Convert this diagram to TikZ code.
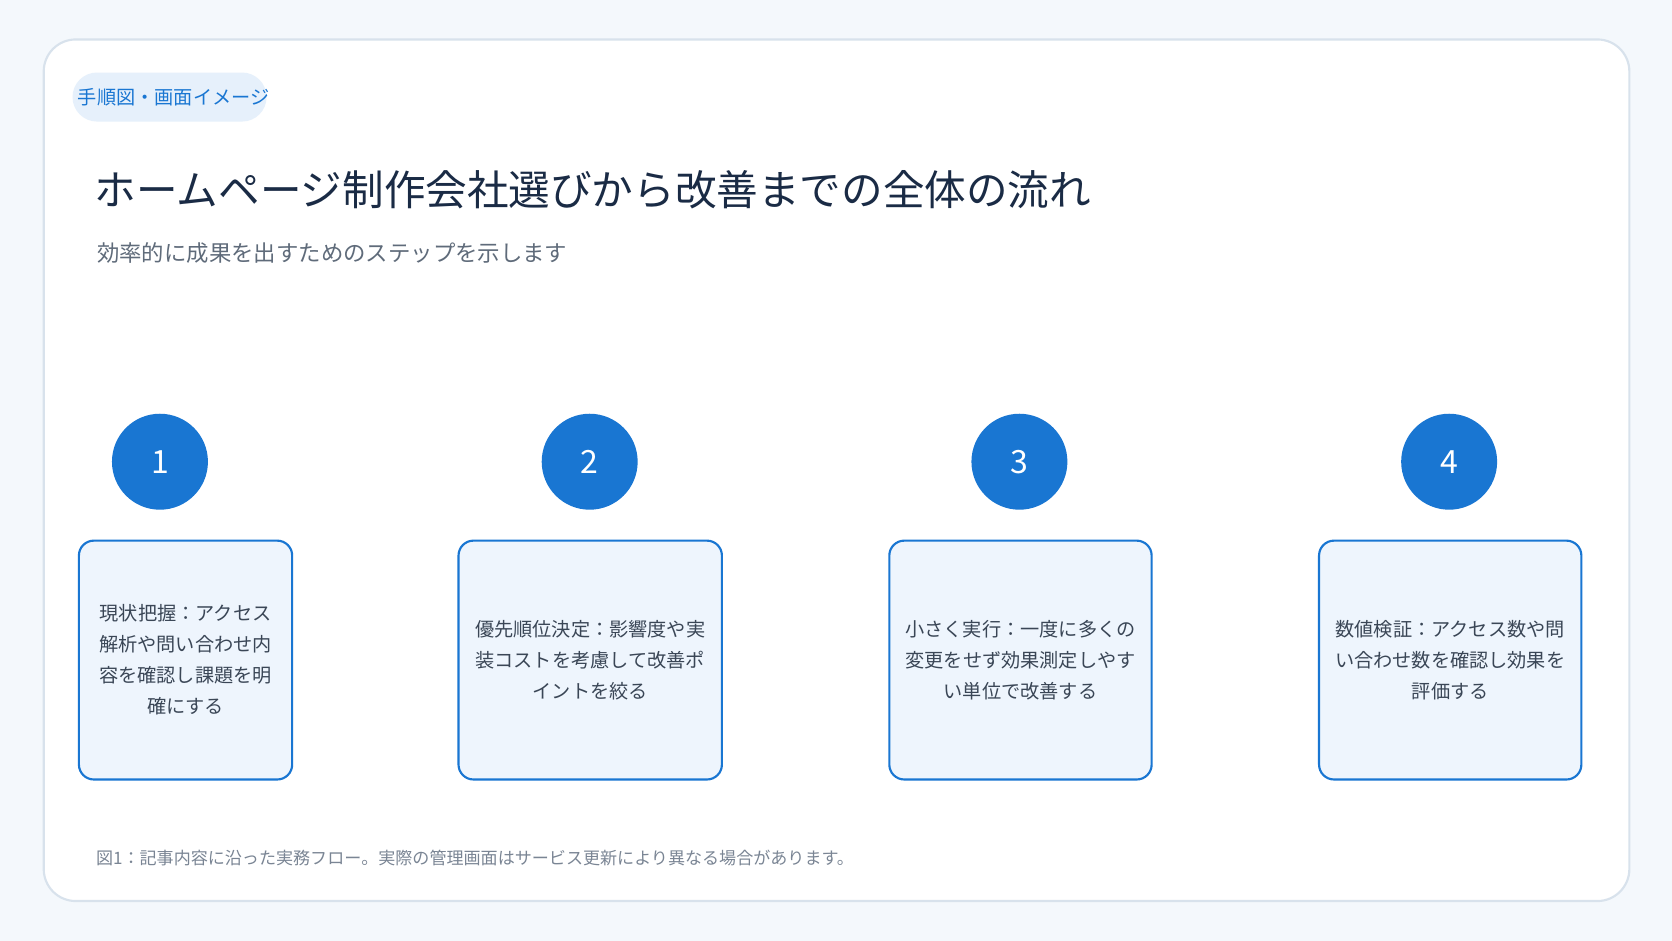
\documentclass[tikz,border=0pt]{standalone}
\usepackage{fontspec}
\setmainfont{Noto Sans CJK JP}
\usetikzlibrary{backgrounds}
\definecolor{pagebg}{HTML}{F4F8FC}
\definecolor{cardline}{HTML}{D8E2EC}
\definecolor{accent}{HTML}{1976D2}
\definecolor{pillbg}{HTML}{E6F0FB}
\definecolor{titlecol}{HTML}{1A2B45}
\definecolor{subcol}{HTML}{5F6B7A}
\definecolor{trackcol}{HTML}{C8D6E3}
\definecolor{boxbg}{HTML}{EEF5FD}
\definecolor{textcol}{HTML}{3A4656}
\definecolor{capcol}{HTML}{7A8594}
\tikzset{
  stepdot/.style={circle, fill=accent, minimum size=45pt, inner sep=0pt, text=white, font=\fontsize{15}{15}\selectfont},
  stepbox/.style={draw=accent, line width=1pt, fill=boxbg, rounded corners=7pt, text=textcol,
    align=center, font=\fontsize{9}{14.5}\selectfont},
}
\begin{document}
\begin{tikzpicture}[x=0.5pt, y=-0.5pt]
  \fill[pagebg] (0,0) rectangle (1568,882);
  \filldraw[fill=white, draw=cardline, line width=1pt, rounded corners=15pt] (41,37) rectangle (1528,845);
  % header
  \fill[pillbg, rounded corners=11.5pt] (68,68) rectangle (250,114);
  \node[anchor=west, text=accent, font=\fontsize{9}{9}\selectfont] (tag) at (66,91) {手順図・画面イメージ};
  \node[anchor=west, text=titlecol, font=\fontsize{19.5}{19.5}\selectfont] (title) at (82,178) {ホームページ制作会社選びから改善までの全体の流れ};
  \node[anchor=west, text=subcol, font=\fontsize{10.5}{10.5}\selectfont] (sub) at (84,237) {効率的に成果を出すためのステップを示します};
  % steps
  \node[stepdot] (c1) at (150,433) {1};
  \node[stepdot] (c2) at (553,433) {2};
  \node[stepdot] (c3) at (956,433) {3};
  \node[stepdot] (c4) at (1359,433) {4};
  \begin{scope}[on background layer]
    \draw[trackcol, line width=4.5pt] ([xshift=8pt]c1.east) -- ([xshift=-8pt]c4.west);
  \end{scope}
  \node[stepbox, minimum width=100pt, minimum height=112pt] (b1) at (174,619)
    {現状把握：アクセス\\解析や問い合わせ内\\容を確認し課題を明\\確にする};
  \node[stepbox, minimum width=123.5pt, minimum height=112pt] (b2) at (553.5,619)
    {優先順位決定：影響度や実\\装コストを考慮して改善ポ\\イントを絞る};
  \node[stepbox, minimum width=123pt, minimum height=112pt] (b3) at (957,619)
    {小さく実行：一度に多くの\\変更をせず効果測定しやす\\い単位で改善する};
  \node[stepbox, minimum width=123pt, minimum height=112pt] (b4) at (1360,619)
    {数値検証：アクセス数や問\\い合わせ数を確認し効果を\\評価する};
  % caption
  \node[anchor=west, text=capcol, font=\fontsize{8}{8}\selectfont] (cap) at (83,805)
    {図1：記事内容に沿った実務フロー。実際の管理画面はサービス更新により異なる場合があります。};
\end{tikzpicture}
\end{document}
